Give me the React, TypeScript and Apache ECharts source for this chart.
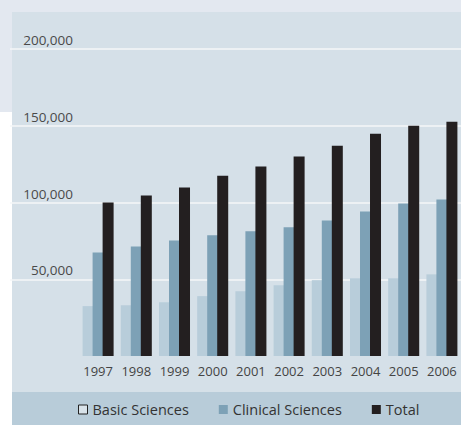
import React, { useEffect, useRef } from "react";
import * as echarts from "echarts";

// Enrollment by year
const years = ["1997", "1998", "1999", "2000", "2001", "2002", "2003", "2004", "2005", "2006"];
const basicSciences = [32500, 33100, 35000, 39000, 42200, 46100, 49400, 50600, 50600, 53200];
const clinicalSciences = [67500, 71400, 75300, 78600, 81200, 83800, 88300, 94200, 99400, 102000];
const totals = [100000, 104500, 109700, 117500, 123400, 129900, 137000, 144800, 150000, 152600];

const yMin = 0;
const yMax = 200000;
const yStep = 50000;

const FONT = "'Open Sans', 'Noto Sans', sans-serif";
const COLORS = {
  basic: "#b8cdda",
  clinical: "#7da1b6",
  total: "#231f20",
  panel: "#d5e0e8",
  frame: "#e3e8f0",
  band: "#b8ccd9",
};

export default function App() {
  const ref = useRef<HTMLDivElement>(null);

  useEffect(() => {
    if (!ref.current) return;
    const chart = echarts.init(ref.current, undefined, { renderer: "svg" });
    const W = 461;
    chart.setOption({
      animation: false,
      graphic: [
        { type: "rect", z: -10, silent: true, shape: { x: 0, y: 0, width: W, height: 12 }, style: { fill: COLORS.frame } },
        { type: "rect", z: -10, silent: true, shape: { x: 0, y: 0, width: 12, height: 112 }, style: { fill: COLORS.frame } },
        { type: "rect", z: -10, silent: true, shape: { x: 12, y: 12, width: W - 12, height: 380 }, style: { fill: COLORS.panel } },
        { type: "rect", z: -10, silent: true, shape: { x: 12, y: 392, width: W - 12, height: 33 }, style: { fill: COLORS.band } },
      ],
      grid: [
        { left: 10, right: 0, top: 49, bottom: 70 },
        { left: 79, right: -2, top: 49, bottom: 70 },
      ],
      xAxis: [
        { type: "category", gridIndex: 0, data: years, show: false },
        {
          type: "category",
          gridIndex: 1,
          data: years,
          axisLine: { show: false },
          axisTick: { show: false },
          axisLabel: { interval: 0, color: "#444", fontFamily: FONT, fontSize: 13, margin: 8 },
        },
      ],
      yAxis: [
        {
          type: "value",
          gridIndex: 0,
          min: yMin,
          max: yMax,
          interval: yStep,
          axisLine: { show: false },
          axisTick: { show: false },
          splitLine: { show: true, showMinLine: false, lineStyle: { color: "#f4f7f9", width: 1.5 } },
          axisLabel: {
            inside: true,
            margin: 63,
            align: "right",
            verticalAlign: "bottom",
            padding: [0, 0, 2, 0],
            color: "#4a4a4a",
            fontFamily: FONT,
            fontSize: 13.5,
            formatter: (v: number) => (v === 0 ? "" : v.toLocaleString("en-US")),
          },
        },
        { type: "value", gridIndex: 1, min: yMin, max: yMax, interval: yStep, show: false },
      ],
      legend: {
        left: 78,
        top: 402,
        padding: 0,
        itemWidth: 9,
        itemHeight: 9,
        itemGap: 30,
        icon: "rect",
        textStyle: { color: "#333", fontFamily: FONT, fontSize: 14.5 },
        data: [
          { name: "Basic Sciences", itemStyle: { color: "#d8e2e9", borderColor: "#222", borderWidth: 1 } },
          { name: "Clinical Sciences" },
          { name: "Total" },
        ],
      },
      series: [
        {
          name: "Basic Sciences",
          type: "bar",
          xAxisIndex: 1,
          yAxisIndex: 1,
          data: basicSciences,
          barWidth: 11,
          barGap: "-9%",
          itemStyle: { color: COLORS.basic },
        },
        {
          name: "Clinical Sciences",
          type: "bar",
          xAxisIndex: 1,
          yAxisIndex: 1,
          data: clinicalSciences,
          barWidth: 11,
          barGap: "-9%",
          itemStyle: { color: COLORS.clinical },
        },
        {
          name: "Total",
          type: "bar",
          xAxisIndex: 1,
          yAxisIndex: 1,
          data: totals,
          barWidth: 11,
          barGap: "-9%",
          itemStyle: { color: COLORS.total },
        },
      ],
    });
    return () => chart.dispose();
  }, []);

  return (
    <div style={{ position: "absolute", left: 0, top: 0, width: 461, height: 426, background: "#fff" }}>
      <div ref={ref} style={{ width: 461, height: 426 }} />
    </div>
  );
}
